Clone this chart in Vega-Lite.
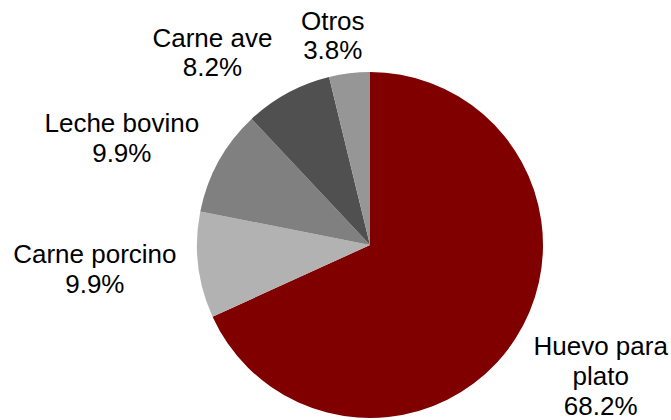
{
  "$schema": "https://vega.github.io/schema/vega-lite/v6.json",
  "width": 346,
  "height": 346,
  "autosize": {"type": "none"},
  "padding": {"left": 197, "top": 72, "right": 128, "bottom": 2},
  "background": "white",
  "view": {"stroke": null},
  "data": {
    "values": [
      {"categoria": "Huevo para plato", "valor": 68.2, "label": "Huevo para\nplato\n68.2%"},
      {"categoria": "Carne porcino", "valor": 9.9, "label": "Carne porcino\n9.9%"},
      {"categoria": "Leche bovino", "valor": 9.9, "label": "Leche bovino\n9.9%"},
      {"categoria": "Carne ave", "valor": 8.2, "label": "Carne ave\n8.2%"},
      {"categoria": "Otros", "valor": 3.8, "label": "Otros\n3.8%"}
    ]
  },
  "transform": [{"window": [{"op": "row_number", "as": "idx"}]}],
  "encoding": {
    "theta": {"field": "valor", "type": "quantitative", "stack": true},
    "order": {"field": "idx", "type": "quantitative", "sort": "ascending"}
  },
  "layer": [
    {
      "mark": {"type": "arc", "stroke": null},
      "encoding": {
        "color": {
          "field": "categoria",
          "type": "nominal",
          "scale": {
            "domain": ["Huevo para plato", "Carne porcino", "Leche bovino", "Carne ave", "Otros"],
            "range": ["#800000", "#b2b2b2", "#808080", "#505050", "#969696"]
          },
          "legend": null
        }
      }
    },
    {
      "mark": {"type": "text", "radius": 266, "dx": 7, "dy": -42, "font": "Liberation Sans", "fontSize": 26, "lineBreak": "\n", "lineHeight": 30, "align": "center", "baseline": "middle", "color": "black"},
      "encoding": {"text": {"condition": {"test": "datum.categoria === 'Huevo para plato'", "field": "label"}, "value": ""}}
    },
    {
      "mark": {"type": "text", "radius": 274, "dx": -3, "dy": -22, "font": "Liberation Sans", "fontSize": 26, "lineBreak": "\n", "lineHeight": 30, "align": "center", "baseline": "middle", "color": "black"},
      "encoding": {"text": {"condition": {"test": "datum.categoria === 'Carne porcino'", "field": "label"}, "value": ""}}
    },
    {
      "mark": {"type": "text", "radius": 270, "dx": -12, "dy": 10, "font": "Liberation Sans", "fontSize": 26, "lineBreak": "\n", "lineHeight": 30, "align": "center", "baseline": "middle", "color": "black"},
      "encoding": {"text": {"condition": {"test": "datum.categoria === 'Leche bovino'", "field": "label"}, "value": ""}}
    },
    {
      "mark": {"type": "text", "radius": 249, "dx": -39, "dy": 13, "font": "Liberation Sans", "fontSize": 26, "lineBreak": "\n", "lineHeight": 29, "align": "center", "baseline": "middle", "color": "black"},
      "encoding": {"text": {"condition": {"test": "datum.categoria === 'Carne ave'", "field": "label"}, "value": ""}}
    },
    {
      "mark": {"type": "text", "radius": 212, "dx": -12, "dy": -13, "font": "Liberation Sans", "fontSize": 26, "lineBreak": "\n", "lineHeight": 29, "align": "center", "baseline": "middle", "color": "black"},
      "encoding": {"text": {"condition": {"test": "datum.categoria === 'Otros'", "field": "label"}, "value": ""}}
    }
  ]
}
